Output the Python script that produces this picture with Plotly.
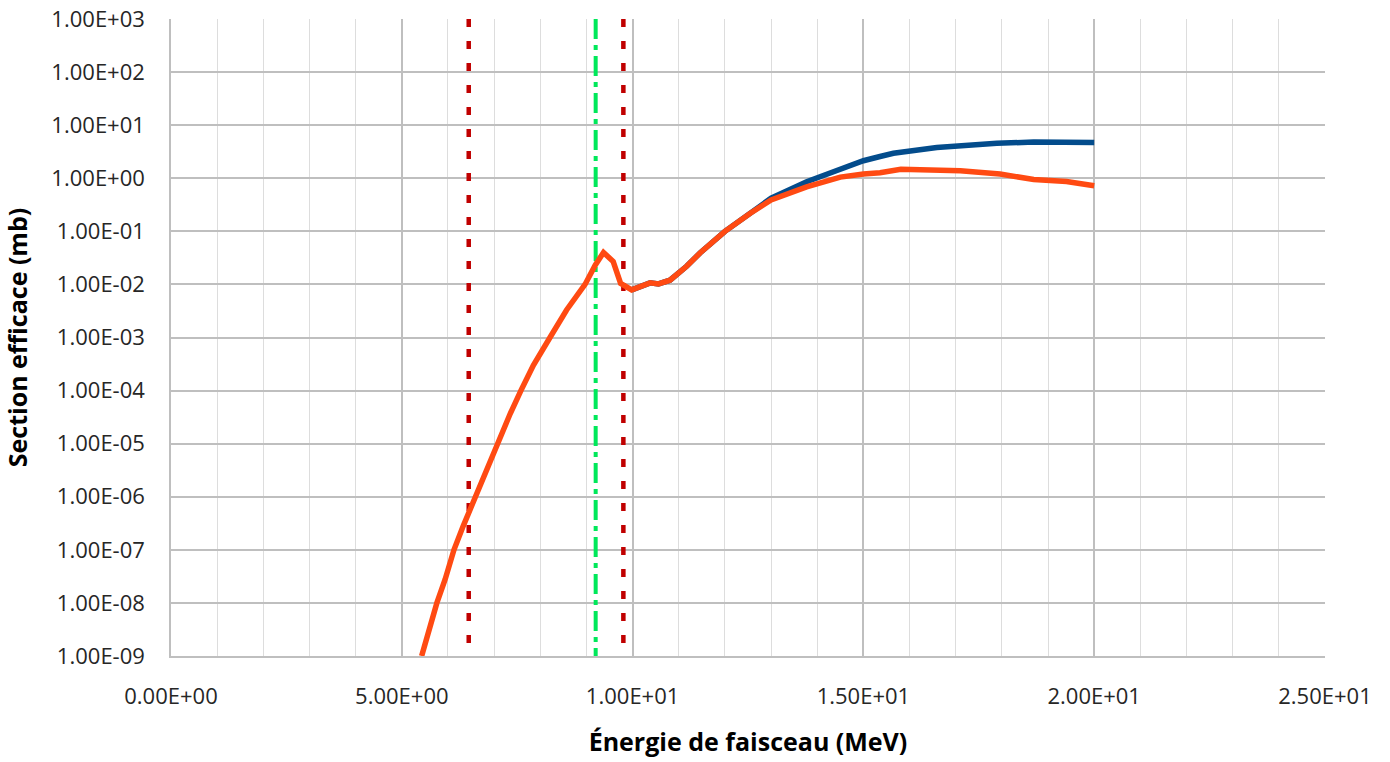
import plotly.graph_objects as go

# Orange series (cross section vs beam energy)
energy_orange = [5.43, 5.76, 5.94, 6.13, 6.33, 6.59, 6.84, 7.06, 7.35, 7.58, 7.85,
                 8.21, 8.57, 8.97, 9.19, 9.37, 9.58, 9.74, 9.98, 10.38, 10.56, 10.81,
                 11.17, 11.46, 12.0, 12.55, 13.0, 13.77, 14.5, 15.0, 15.36, 15.81,
                 16.37, 17.1, 17.96, 18.69, 19.4, 20.0]
sigma_orange = [1e-9, 1e-8, 2.8e-8, 1e-7, 2.8e-7, 9.8e-7, 3.2e-6, 9.8e-6, 3.7e-5, 1e-4,
                3.0e-4, 1e-3, 3.3e-3, 1e-2, 0.023, 0.040, 0.027, 0.0105, 0.0079,
                0.0107, 0.0102, 0.012, 0.022, 0.039, 0.1, 0.22, 0.39, 0.69, 1.05, 1.2,
                1.27, 1.48, 1.45, 1.38, 1.2, 0.95, 0.87, 0.72]

# Blue series
energy_blue = [9.98, 10.38, 10.56, 10.81, 11.17, 11.46, 12.0, 12.55, 13.0, 13.77, 14.5,
               14.72, 15.0, 15.36, 15.65, 16.59, 17.89, 18.69, 20.0]
sigma_blue = [0.0079, 0.0107, 0.0102, 0.012, 0.022, 0.039, 0.1, 0.225, 0.42, 0.86, 1.5,
              1.75, 2.14, 2.57, 2.95, 3.8, 4.57, 4.8, 4.7]

# Vertical reference lines (MeV)
red_lines = [6.45, 9.80]
green_line = [9.20]
y_span = [1e3, 1e-9]

x_tickvals = [0, 5, 10, 15, 20, 25]
x_ticktext = ["0.00E+00", "5.00E+00", "1.00E+01", "1.50E+01", "2.00E+01", "2.50E+01"]
y_tickvals = [10.0 ** k for k in range(-9, 4)]
y_ticktext = ["1.00E-09", "1.00E-08", "1.00E-07", "1.00E-06", "1.00E-05", "1.00E-04",
              "1.00E-03", "1.00E-02", "1.00E-01", "1.00E+00", "1.00E+01", "1.00E+02",
              "1.00E+03"]

fig = go.Figure()

for xr in red_lines:
    fig.add_trace(go.Scatter(x=[xr, xr], y=y_span, mode="lines",
                             line=dict(color="#C00000", width=4.5, dash="8px,14px"),
                             showlegend=False, hoverinfo="skip"))
for xg in green_line:
    fig.add_trace(go.Scatter(x=[xg, xg], y=y_span, mode="lines",
                             line=dict(color="#00E85A", width=4, dash="20px,6px,5px,6px"),
                             showlegend=False, hoverinfo="skip"))

fig.add_trace(go.Scatter(x=energy_blue, y=sigma_blue, mode="lines",
                         line=dict(color="#034C8C", width=5.5), showlegend=False))
fig.add_trace(go.Scatter(x=energy_orange, y=sigma_orange, mode="lines",
                         line=dict(color="#FF4A12", width=5.5), showlegend=False))

tick_font = dict(family="Open Sans, sans-serif", size=22, color="#262626")
title_font = dict(family="Open Sans, sans-serif", size=25, color="black")

fig.update_layout(
    width=1390, height=762,
    margin=dict(l=171, r=65, t=19, b=106),
    paper_bgcolor="white", plot_bgcolor="white",
    xaxis=dict(range=[0, 25], tickvals=x_tickvals, ticktext=x_ticktext,
               automargin=False,
               showgrid=True, gridcolor="#BFBFBF", gridwidth=1.5,
               minor=dict(dtick=1, showgrid=True, gridcolor="#DDDDDD", gridwidth=1),
               showline=True, linecolor="#BFBFBF", linewidth=1.5,
               ticks="outside", ticklen=20, tickcolor="rgba(0,0,0,0)",
               tickfont=tick_font, zeroline=False,
               title=dict(text="<b>Énergie de faisceau (MeV)</b>",
                          font=title_font, standoff=24)),
    yaxis=dict(type="log", range=[-9, 3], tickvals=y_tickvals, ticktext=y_ticktext,
               automargin=False,
               showgrid=True, gridcolor="#BFBFBF", gridwidth=1.5,
               showline=True, linecolor="#BFBFBF", linewidth=1.5,
               ticks="outside", ticklen=20, tickcolor="rgba(0,0,0,0)",
               tickfont=tick_font, zeroline=False,
               title=dict(text="<b>Section efficace (mb)</b>",
                          font=title_font, standoff=20)),
)

fig.write_html("out.html")
